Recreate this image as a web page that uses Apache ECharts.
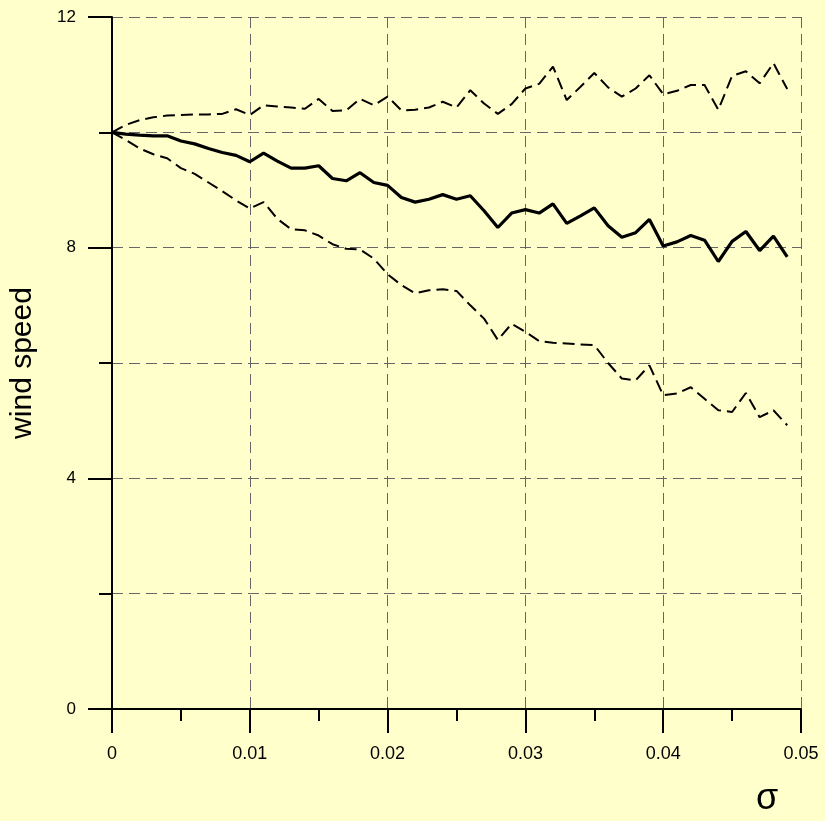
<!DOCTYPE html>
<html>
<head>
<meta charset="utf-8">
<script src="https://cdn.jsdelivr.net/npm/echarts@6/dist/echarts.min.js"></script>
<style>
html,body{margin:0;padding:0;background:#ffffcc;}
#chart{width:825px;height:821px;}
</style>
</head>
<body>
<div id="chart"></div>
<script>
var sigma = [];
for (var k = 0; k < 50; k++) sigma.push(+(k * 0.001).toFixed(3));

var meanSpeed = [10.00,9.97,9.95,9.94,9.94,9.85,9.80,9.72,9.65,9.60,
  9.49,9.64,9.50,9.38,9.38,9.42,9.20,9.16,9.30,9.13,
  9.08,8.87,8.79,8.84,8.92,8.84,8.90,8.64,8.35,8.60,
  8.66,8.60,8.76,8.42,8.55,8.69,8.38,8.18,8.26,8.49,
  8.03,8.10,8.21,8.13,7.76,8.11,8.28,7.95,8.20,7.84];

var upperSpeed = [10.00,10.13,10.21,10.26,10.29,10.30,10.31,10.31,10.32,10.40,
  10.30,10.47,10.45,10.43,10.41,10.58,10.37,10.38,10.58,10.47,
  10.62,10.38,10.39,10.43,10.53,10.43,10.73,10.50,10.32,10.49,
  10.76,10.84,11.14,10.56,10.79,11.03,10.78,10.62,10.76,10.99,
  10.66,10.72,10.82,10.82,10.39,10.98,11.06,10.85,11.20,10.75];

var lowerSpeed = [10.00,9.87,9.72,9.62,9.55,9.38,9.28,9.13,8.98,8.82,
  8.68,8.79,8.50,8.32,8.30,8.21,8.06,7.98,7.97,7.81,
  7.54,7.35,7.21,7.26,7.28,7.25,7.00,6.77,6.40,6.68,
  6.54,6.38,6.35,6.34,6.32,6.31,6.00,5.73,5.70,5.96,
  5.44,5.47,5.58,5.38,5.18,5.15,5.48,5.06,5.18,4.92];

function pairs(xs, ys) { return xs.map(function (x, i) { return [x, ys[i]]; }); }

var chart = echarts.init(document.getElementById('chart'), null, {renderer: 'canvas'});
var gridLine = {color: '#666', width: 1, type: [11, 6]};
chart.setOption({
  backgroundColor: '#ffffcc',
  animation: false,
  textStyle: {fontFamily: 'Liberation Sans, Arial, sans-serif'},
  grid: {left: 111, right: 24, top: 17, bottom: 112},
  xAxis: {
    type: 'value', min: 0, max: 0.05, interval: 0.01,
    axisLine: {show: true, onZero: false, lineStyle: {color: '#000', width: 2}},
    axisTick: {show: true, length: 24, lineStyle: {color: '#000', width: 2}},
    minorTick: {show: true, splitNumber: 2, length: 12, lineStyle: {color: '#000', width: 2}},
    axisLabel: {color: '#000', fontSize: 18, margin: 36,
      formatter: function (v) { return v === 0 ? '0' : v.toFixed(2); }},
    splitLine: {show: true, lineStyle: gridLine},
    minorSplitLine: {show: false}
  },
  yAxis: {
    type: 'value', min: 0, max: 12, interval: 4,
    name: 'wind speed', nameLocation: 'middle', nameGap: 74, nameRotate: 90,
    nameTextStyle: {fontSize: 30, color: '#000'},
    axisLine: {show: true, onZero: false, lineStyle: {color: '#000', width: 2}},
    axisTick: {show: true, length: 24, lineStyle: {color: '#000', width: 2}},
    minorTick: {show: true, splitNumber: 2, length: 13, lineStyle: {color: '#000', width: 2}},
    axisLabel: {color: '#000', fontSize: 17, margin: 36},
    splitLine: {show: true, lineStyle: gridLine},
    minorSplitLine: {show: true, lineStyle: gridLine}
  },
  graphic: [{
    type: 'text', left: 756, top: 781,
    style: {text: 'σ', fontSize: 36, fill: '#000', fontFamily: 'Liberation Sans, Arial, sans-serif'}
  }],
  series: [
    {type: 'line', data: pairs(sigma, upperSpeed), showSymbol: false, z: 3,
      lineStyle: {color: '#000', width: 2, type: [12, 6]}},
    {type: 'line', data: pairs(sigma, meanSpeed), showSymbol: false, z: 4,
      lineStyle: {color: '#000', width: 3.2}},
    {type: 'line', data: pairs(sigma, lowerSpeed), showSymbol: false, z: 3,
      lineStyle: {color: '#000', width: 2, type: [12, 6]}}
  ]
});
</script>
</body>
</html>
